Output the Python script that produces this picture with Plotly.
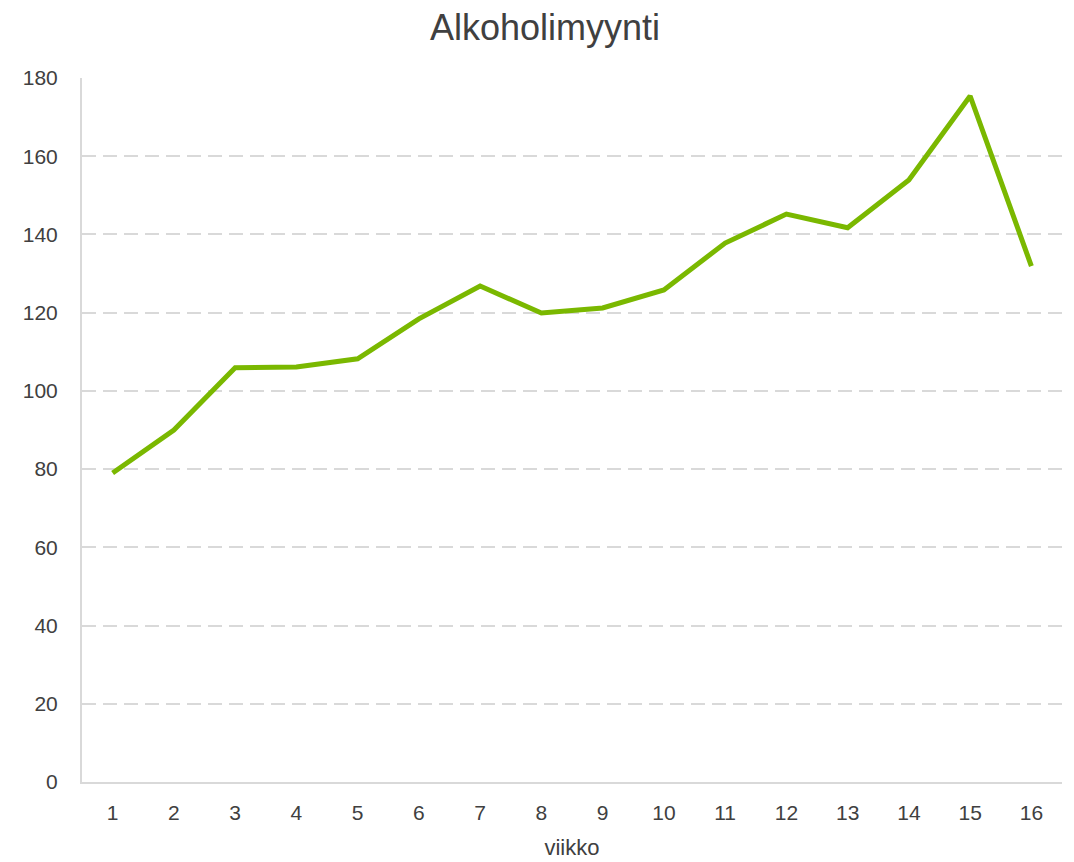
import plotly.graph_objects as go

weeks = list(range(1, 17))
sales = [79.0, 90.0, 105.9, 106.1, 108.2, 118.4, 126.8, 119.9, 121.2, 125.8, 137.8, 145.2, 141.7, 153.9, 175.4, 131.9]
y_ticks = [0, 20, 40, 60, 80, 100, 120, 140, 160, 180]

fig = go.Figure()
fig.add_trace(go.Scatter(x=weeks, y=sales, mode="lines",
                         line=dict(color="#7AB800", width=5), hoverinfo="x+y"))

font_color = "#404040"
fig.update_layout(
    width=1074, height=862,
    margin=dict(l=74, r=20, t=70, b=88),
    paper_bgcolor="white", plot_bgcolor="white",
    font=dict(family="Liberation Sans, Arial, sans-serif", color=font_color, size=21),
    title=dict(text="Alkoholimyynti", x=0.5, xanchor="center", y=0.978, yanchor="middle",
               font=dict(size=36, color=font_color)),
    showlegend=False,
    xaxis=dict(range=[0.5, 16.5], tickvals=weeks, ticktext=[str(w) for w in weeks],
               showgrid=False, zeroline=False, showline=True, linecolor="#D9D9D9", linewidth=2,
               ticks="", tickfont=dict(size=21, color=font_color), ticklabelstandoff=11,
               title=dict(text="viikko", font=dict(size=22, color=font_color), standoff=16)),
    yaxis=dict(range=[0, 180], tickvals=y_ticks, showgrid=True, gridcolor="#D9D9D9",
               griddash="14px,7px", gridwidth=2, zeroline=False, showline=True,
               linecolor="#D9D9D9", linewidth=2, ticks="", ticklabelstandoff=18,
               tickfont=dict(size=21, color=font_color)),
)

fig.write_html("out.html")
